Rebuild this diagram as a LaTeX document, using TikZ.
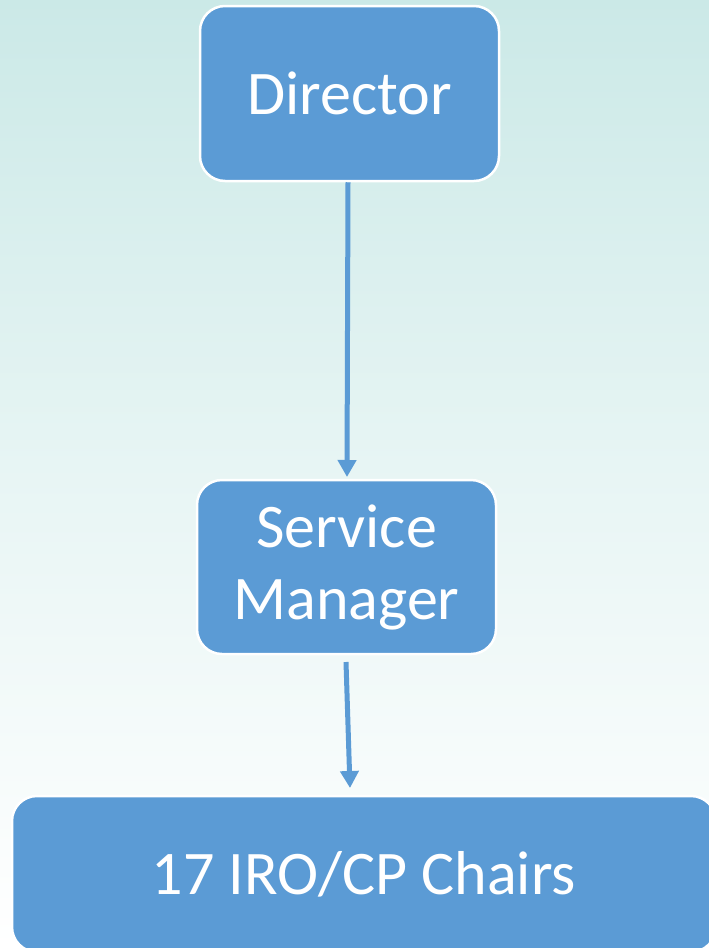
\documentclass[tikz,border=0pt]{standalone}
\usepackage{fontspec}
\setmainfont{Carlito}
\usetikzlibrary{arrows.meta}
\definecolor{boxblue}{RGB}{91,155,213}
\definecolor{bgtop}{RGB}{203,233,231}
\tikzset{
  orgbox/.style={draw=white, line width=2.5pt, fill=boxblue, rounded corners=25pt,
    text=white, font=\fontsize{62}{72}\selectfont, align=center, inner sep=0pt},
  link/.style={draw=boxblue, line width=5pt, -{Triangle[length=17pt,width=18pt]}, shorten >=0pt}
}
\begin{document}
\begin{tikzpicture}[x=1pt,y=-1pt]
\useasboundingbox (0,0) rectangle (709,948);
\clip (0,0) rectangle (709,948);
\shade[top color=bgtop, bottom color=white, middle color=bgtop!45!white] (0,0) rectangle (709,948);
\node[orgbox, minimum width=299pt, minimum height=175pt] (dir) at (349.5,93.5) {Director};
\node[orgbox, minimum width=299pt, minimum height=174pt] (sm) at (346.5,567) {Service\\Manager};
\node[orgbox, minimum width=704pt, minimum height=156pt] (ch) at (364,874) {17 IRO/CP Chairs};
\coordinate (a1) at (347,477);
\coordinate (b1) at (346,662);
\coordinate (b2) at (350,788);
\draw[link] (dir.south -| 348,0) -- (a1);
\draw[link] (b1) -- (b2);
\end{tikzpicture}
\end{document}
